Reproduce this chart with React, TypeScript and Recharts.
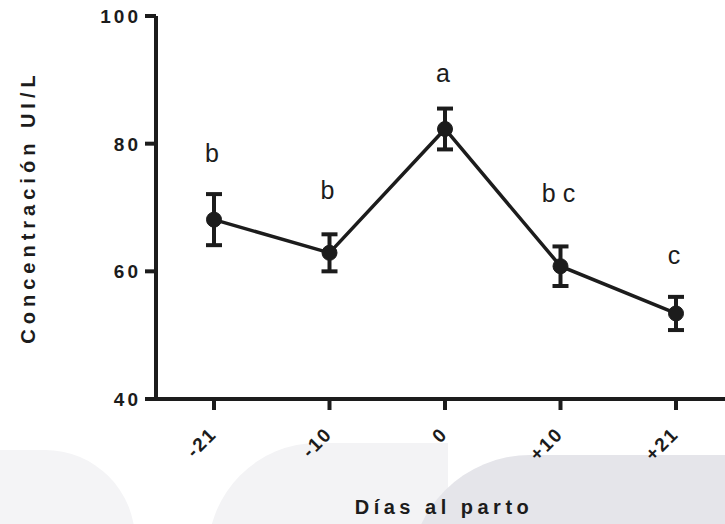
import { LineChart, Line, XAxis, YAxis, ErrorBar, LabelList, Label } from 'recharts';

const days = ['-21', '-10', '0', '+10', '+21'];
const means = [68.1, 62.9, 82.3, 60.8, 53.4];
const sem = [4.0, 2.9, 3.2, 3.1, 2.6];
const letters = ['b', 'b', 'a', 'b c', 'c'];
// where the significance letters sit, in y-axis units
const letterLevels = [78.6, 72.7, 91.1, 72.3, 62.5];
const yTicks = [40, 60, 80, 100];

const INK = '#1c1c1c';
const FONT = '"Liberation Sans", Arial, sans-serif';

const data = days.map((d, i) => ({
  day: d,
  mean: means[i],
  err: sem[i],
  letter: letters[i],
  letterAt: letterLevels[i],
}));

function YTick(props: any) {
  const { y, payload } = props;
  return (
    <text x={141} y={y + 7} textAnchor="end" fontFamily={FONT} fontWeight="bold" fontSize={19} letterSpacing={3} fill={INK}>
      {payload.value}
    </text>
  );
}

function XTick(props: any) {
  const { x, payload } = props;
  return (
    <text
      transform={`translate(${x + 4}, 435) rotate(-45)`}
      textAnchor="end"
      fontFamily={FONT}
      fontWeight="bold"
      fontSize={19}
      letterSpacing={2}
      fill={INK}
    >
      {payload.value}
    </text>
  );
}

function Letter(props: any) {
  const { x, y, value } = props;
  return (
    <text x={x - 2} y={y + 9} textAnchor="middle" fontFamily={FONT} fontSize={25} fill={INK}>
      {value}
    </text>
  );
}

// faint watermark blobs at the bottom of the original image
const blobs: React.CSSProperties[] = [
  { left: -60, top: 450, width: 195, height: 160, background: '#f4f4f6', borderTopRightRadius: 90 },
  { left: 208, top: 443, width: 240, height: 120, background: '#f3f3f5', borderTopLeftRadius: 110 },
  { left: 410, top: 455, width: 340, height: 120, background: '#e5e5ea', borderTopLeftRadius: 140 },
];

export default function App() {
  return (
    <div style={{ position: 'fixed', left: 0, top: 0, width: 725, height: 524, overflow: 'hidden', background: '#fff' }}>
      {blobs.map((s, i) => (
        <div key={i} style={{ position: 'absolute', ...s }} />
      ))}
      <div style={{ position: 'absolute', left: 0, top: 0 }}>
        <LineChart width={740} height={524} data={data} margin={{ top: 16, right: 6, left: 0, bottom: 0 }}>
          <XAxis
            dataKey="day"
            height={125}
            padding={{ left: 58, right: 58 }}
            tickSize={11}
            tick={<XTick />}
            axisLine={{ stroke: INK, strokeWidth: 4 }}
            tickLine={{ stroke: INK, strokeWidth: 4 }}
          >
            <Label
              content={() => (
                <text x={444} y={514} textAnchor="middle" fontFamily={FONT} fontWeight="bold" fontSize={20} letterSpacing={4.5} fill={INK}>
                  Días al parto
                </text>
              )}
            />
          </XAxis>
          <YAxis
            width={156}
            domain={[40, 100]}
            ticks={yTicks}
            interval={0}
            tickSize={11}
            tick={<YTick />}
            axisLine={{ stroke: INK, strokeWidth: 4 }}
            tickLine={{ stroke: INK, strokeWidth: 4 }}
          >
            <Label
              content={() => (
                <text
                  transform="translate(35, 207) rotate(-90)"
                  textAnchor="middle"
                  fontFamily={FONT}
                  fontWeight="bold"
                  fontSize={20}
                  letterSpacing={5}
                  fill={INK}
                >
                  Concentración UI/L
                </text>
              )}
            />
          </YAxis>
          <Line
            dataKey="mean"
            stroke={INK}
            strokeWidth={3.5}
            dot={{ r: 7.5, fill: INK, stroke: INK, strokeWidth: 1 }}
            activeDot={false}
            isAnimationActive={false}
          >
            <ErrorBar dataKey="err" direction="y" width={8} stroke={INK} strokeWidth={4} />
          </Line>
          <Line dataKey="letterAt" stroke="none" dot={false} activeDot={false} isAnimationActive={false}>
            <LabelList dataKey="letter" content={<Letter />} />
          </Line>
        </LineChart>
      </div>
    </div>
  );
}
